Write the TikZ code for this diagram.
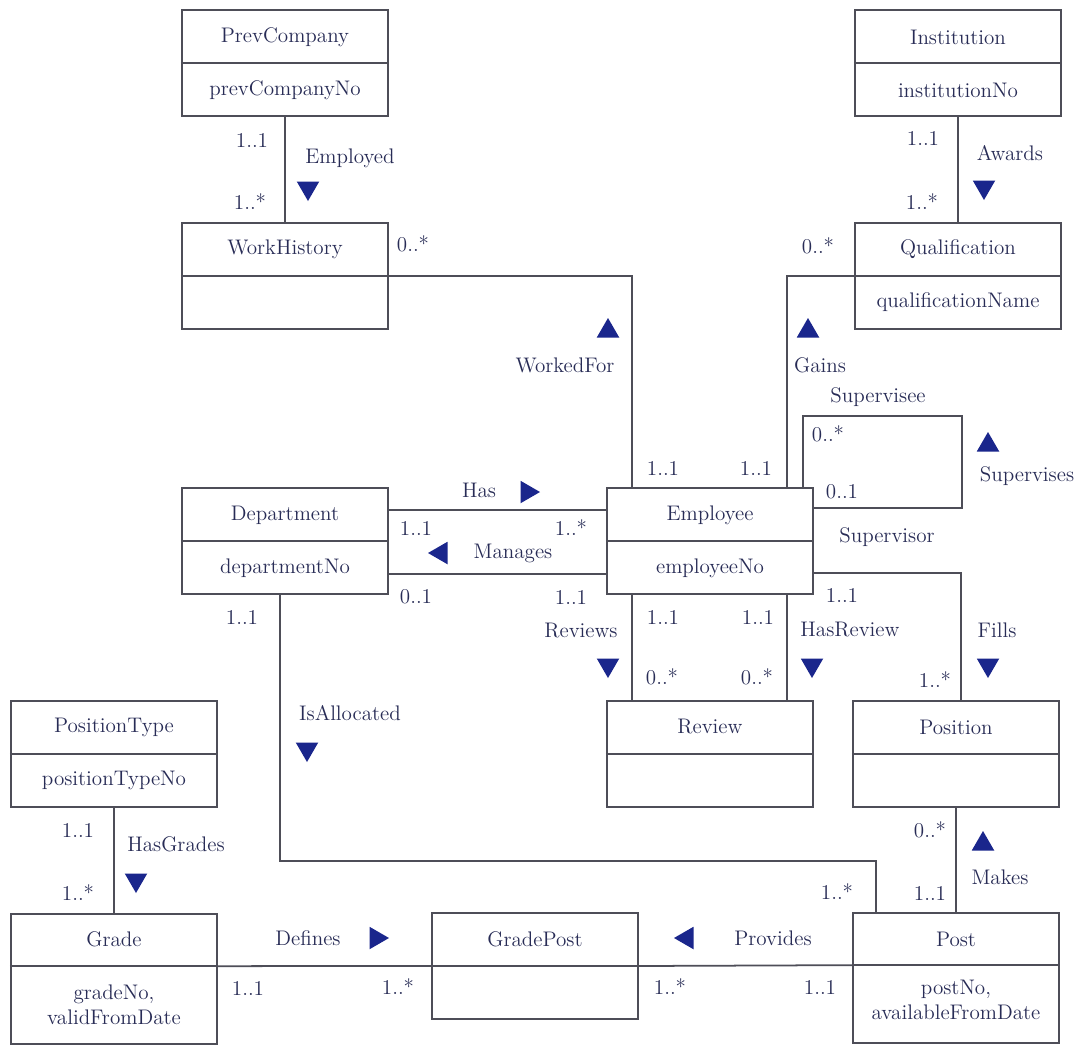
\documentclass[tikz,border=0pt]{standalone}
\usepackage{tikz}
\usetikzlibrary{positioning, calc, shapes.geometric}
\definecolor{inkblue}{RGB}{40,44,86}
\definecolor{wiregray}{RGB}{78,78,88}
\definecolor{triblue}{RGB}{26,38,140}

\begin{document}
\begin{tikzpicture}[x=0.02cm, y=-0.02cm,
    cls/.style={draw=wiregray, line width=1pt, minimum width=4.13cm, minimum height=2.13cm, inner sep=0pt},
    clsbig/.style={cls, minimum height=2.6cm},
    txt/.style={text=inkblue, font=\fontsize{12}{14}\selectfont, inner sep=1pt},
    wire/.style={draw=wiregray, line width=1pt},
    tri/.style={fill=triblue, regular polygon, regular polygon sides=3, minimum size=0.52cm, inner sep=0pt},
    triup/.style={tri},
    tridown/.style={tri, shape border rotate=180},
    triright/.style={tri, shape border rotate=-90},
    trileft/.style={tri, shape border rotate=90}]

      % page
      \fill[white] (0,0) rectangle (1086,1046);

      % classes
      \node[cls] (prev) at (285,63) {};
      \node[cls] (work) at (285,276) {};
      \node[cls] (inst) at (958,63) {};
      \node[cls] (qual) at (958,276) {};
      \node[cls] (dept) at (285,541) {};
      \node[cls] (emp) at (710,541) {};
      \node[cls] (rev) at (710,754) {};
      \node[cls] (pos) at (956,754) {};
      \node[cls] (ptype) at (114,754) {};
      \node[clsbig] (grade) at (114,979) {};
      \node[cls] (gpost) at (535,966) {};
      \node[clsbig] (post) at (956,978) {};

      % compartments
      \foreach \c in {prev, work, inst, qual, dept, emp, rev, pos, ptype, gpost}
        \draw[wire] (\c.west) -- (\c.east);
      \draw[wire] ($(grade.north west)+(0,53)$) -- ($(grade.north east)+(0,53)$);
      \draw[wire] ($(post.north west)+(0,53)$) -- ($(post.north east)+(0,53)$);

      \node[txt] (prevname) at (285,37) {PrevCompany};
      \node[txt] (prevattr) at (285,90) {prevCompanyNo};
      \node[txt] (workname) at (285,249) {WorkHistory};
      \node[txt] (instname) at (958,37) {Institution};
      \node[txt] (instattr) at (958,90) {institutionNo};
      \node[txt] (qualname) at (958,249) {Qualification};
      \node[txt] (qualattr) at (958,302) {qualificationName};
      \node[txt] (deptname) at (285,515) {Department};
      \node[txt] (deptattr) at (285,568) {departmentNo};
      \node[txt] (empname) at (710,515) {Employee};
      \node[txt] (empattr) at (710,568) {employeeNo};
      \node[txt] (revname) at (710,727) {Review};
      \node[txt] (posname) at (956,727) {Position};
      \node[txt] (ptypename) at (114,727) {PositionType};
      \node[txt] (ptypeattr) at (114,780) {positionTypeNo};
      \node[txt] (gradename) at (114,939) {Grade};
      \node[txt, align=center] (gradeattr) at (114,1005) {gradeNo,\\validFromDate};
      \node[txt] (gpostname) at (535,939) {GradePost};
      \node[txt] (postname) at (956,939) {Post};
      \node[txt, align=center] (postattr) at (956,1000) {postNo,\\availableFromDate};

      % associations
      \coordinate (loopc) at (962,416);
      \coordinate (bend) at (876,861);
      \draw[wire] (prev.south) -- (work.north);
      \draw[wire] (inst.south) -- (qual.north);
      \draw[wire] (work.east) -| ($(emp.north west)+(26,0)$);
      \draw[wire] (qual.west) -| ($(emp.north east)+(-27,0)$);
      \draw[wire] ($(emp.north east)+(-11,0)$) |- (loopc) |- ($(emp.north east)+(0,21)$);
      \draw[wire] ($(dept.north east)+(0,23)$) -- ($(emp.north west)+(0,23)$);
      \draw[wire] ($(dept.south east)+(0,-21)$) -- ($(emp.south west)+(0,-21)$);
      \draw[wire] ($(emp.south west)+(26,0)$) -- ($(rev.north west)+(26,0)$);
      \draw[wire] ($(emp.south east)+(-27,0)$) -- ($(rev.north east)+(-27,0)$);
      \draw[wire] ($(emp.south east)+(0,-22)$) -| ($(pos.north)+(5,0)$);
      \draw[wire] (pos.south) -- (post.north);
      \draw[wire] ($(dept.south)+(-5,0)$) |- (bend) -- (bend |- post.north);
      \draw[wire] (ptype.south) -- (grade.north);
      \draw[wire] ($(grade.north east)+(0,53)$) -- (gpost.west);
      \draw[wire] (gpost.east) -- ($(post.north west)+(0,53)$);

      % Employed / Awards
      \node[txt] (m1) at (252,140) {1..1};
      \node[txt] (m2) at (250,202) {1..*};
      \node[txt] (employed) at (350,158) {Employed};
      \node[tridown] (t1) at (308,188) {};
      \node[txt] (m3) at (413,244) {0..*};
      \node[txt] (m4) at (923,138) {1..1};
      \node[txt] (m5) at (922,202) {1..*};
      \node[txt] (awards) at (1010,153) {Awards};
      \node[tridown] (t2) at (984,187) {};
      \node[txt] (m6) at (818,246) {0..*};

      % WorkedFor / Gains / Supervises
      \node[triup] (t3) at (608,331) {};
      \node[txt] (workedfor) at (565,365) {WorkedFor};
      \node[triup] (t4) at (808,331) {};
      \node[txt] (gains) at (820,365) {Gains};
      \node[txt] (supervisee) at (878,397) {Supervisee};
      \node[txt] (m7) at (828,434) {0..*};
      \node[txt] (m8) at (842,492) {0..1};
      \node[triup] (t5) at (988,445) {};
      \node[txt] (supervises) at (1027,476) {Supervises};
      \node[txt] (supervisor) at (887,537) {Supervisor};
      \node[txt] (m9) at (663,468) {1..1};
      \node[txt] (m10) at (756,468) {1..1};

      % Has / Manages
      \node[txt] (has) at (479,490) {Has};
      \node[triright] (t6) at (527,492) {};
      \node[txt] (m11) at (416,528) {1..1};
      \node[txt] (m12) at (571,528) {1..*};
      \node[trileft] (t7) at (441,553) {};
      \node[txt] (manages) at (513,553) {Manages};
      \node[txt] (m13) at (416,597) {0..1};
      \node[txt] (m14) at (571,597) {1..1};

      % Reviews / HasReview / Fills
      \node[txt] (m15) at (242,617) {1..1};
      \node[txt] (reviews) at (581,631) {Reviews};
      \node[tridown] (t8) at (608,665) {};
      \node[txt] (m16) at (663,617) {1..1};
      \node[txt] (m17) at (758,617) {1..1};
      \node[txt] (m18) at (662,677) {0..*};
      \node[txt] (m19) at (757,677) {0..*};
      \node[txt] (m20) at (842,595) {1..1};
      \node[txt] (hasreview) at (850,630) {HasReview};
      \node[tridown] (t9) at (812,665) {};
      \node[txt] (fills) at (997,630) {Fills};
      \node[tridown] (t10) at (988,665) {};
      \node[txt] (m21) at (935,680) {1..*};

      % IsAllocated / HasGrades / Makes
      \node[txt] (isallocated) at (350,713) {IsAllocated};
      \node[tridown] (t11) at (307,749) {};
      \node[txt] (m22) at (78,830) {1..1};
      \node[txt] (m23) at (78,893) {1..*};
      \node[txt] (hasgrades) at (176,844) {HasGrades};
      \node[tridown] (t12) at (136,880) {};
      \node[txt] (m24) at (930,830) {0..*};
      \node[triup] (t13) at (983,844) {};
      \node[txt] (makes) at (1000,877) {Makes};
      \node[txt] (m25) at (930,893) {1..1};
      \node[txt] (m26) at (837,892) {1..*};

      % Defines / Provides
      \node[txt] (defines) at (308,938) {Defines};
      \node[triright] (t14) at (376,938) {};
      \node[trileft] (t15) at (687,938) {};
      \node[txt] (provides) at (773,938) {Provides};
      \node[txt] (m27) at (248,988) {1..1};
      \node[txt] (m28) at (398,987) {1..*};
      \node[txt] (m29) at (670,987) {1..*};
      \node[txt] (m30) at (820,987) {1..1};
    \end{tikzpicture}
\end{document}
